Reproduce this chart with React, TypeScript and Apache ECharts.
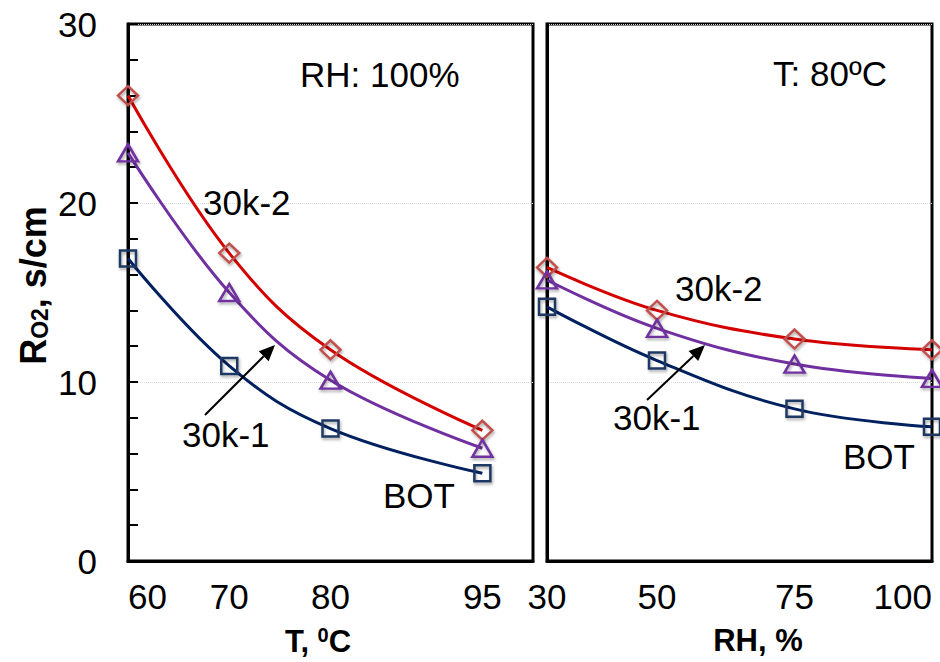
import React, { useEffect, useRef } from "react";
import * as echarts from "echarts";

const tValues = [60, 70, 80, 95];
const rhValues = [30, 50, 75, 100];
const tTickLabels = [60, 70, 80, 95];
const rhTickLabels = [30, 50, 75, 100];

// R_O2 (s/cm) vs temperature at RH 100%
const t_30k2 = [26.0, 17.2, 11.8, 7.3];
const t_30k1 = [22.8, 15.0, 10.1, 6.3];
const t_BOT = [16.9, 10.9, 7.4, 4.9];

// R_O2 (s/cm) vs RH at T 80 C
const rh_30k2 = [16.4, 14.0, 12.4, 11.8];
const rh_30k1 = [15.7, 13.0, 11.0, 10.2];
const rh_BOT = [14.2, 11.2, 8.5, 7.5];

const FONT = "'Liberation Sans', Arial, sans-serif";

const styles = {
  "30k-2": { line: "#D40000", marker: "#C0504D", symbol: "diamond", size: [20, 19] },
  "30k-1": { line: "#7030A0", marker: "#7030A0", symbol: "triangle", size: [20, 17] },
  BOT: { line: "#002060", marker: "#1F3864", symbol: "rect", size: [16, 16] },
} as const;

function makeSeries(name: keyof typeof styles, xs: number[], ys: number[], idx: number) {
  const s = styles[name];
  return {
    type: "line",
    name,
    xAxisIndex: idx,
    yAxisIndex: idx,
    data: xs.map((x, i) => [x, ys[i]]),
    smooth: 0.4,
    clip: false,
    symbol: s.symbol,
    symbolSize: s.size,
    lineStyle: { color: s.line, width: 3 },
    itemStyle: {
      color: "rgba(255,255,255,0)",
      borderColor: s.marker,
      borderWidth: 2.5,
      shadowBlur: 3,
      shadowColor: "rgba(0,0,0,0.35)",
      shadowOffsetX: 1,
      shadowOffsetY: 2,
    },
    z: 3,
  };
}

function text(str: string, x: number, y: number, align = "left") {
  return {
    type: "text",
    x,
    y,
    style: {
      text: str,
      fontSize: 35,
      fontFamily: FONT,
      fill: "#000",
      align,
      verticalAlign: "middle",
    },
    z: 10,
  };
}

function arrow(x1: number, y1: number, x2: number, y2: number) {
  const ang = Math.atan2(y2 - y1, x2 - x1);
  const L = 16;
  const W = 7;
  const bx = x2 - L * Math.cos(ang);
  const by = y2 - L * Math.sin(ang);
  const px = -Math.sin(ang) * W;
  const py = Math.cos(ang) * W;
  return [
    {
      type: "line",
      shape: { x1, y1, x2: bx, y2: by },
      style: { stroke: "#000", lineWidth: 2 },
      z: 10,
    },
    {
      type: "polygon",
      shape: { points: [[x2, y2], [bx + px, by + py], [bx - px, by - py]] },
      style: { fill: "#000" },
      z: 10,
    },
  ];
}

export default function App() {
  const ref = useRef<HTMLDivElement>(null);
  useEffect(() => {
    document.body.style.margin = "0";
    if (!ref.current) return;
    const chart = echarts.init(ref.current, null, { renderer: "svg" });
    const axisLine = { show: true, lineStyle: { color: "#000", width: 3 } };
    const splitLine = { show: true, lineStyle: { color: "#d9d9d9", width: 1, type: "dotted" } };
    const labelStyle = { fontSize: 35, fontFamily: FONT, color: "#000" };
    const nameStyle = { fontSize: 31, fontFamily: FONT, color: "#000", fontWeight: "bold" };
    chart.setOption({
      animation: false,
      backgroundColor: "#fff",
      grid: [
        { left: 128, top: 24, right: 407, bottom: 101, show: true, borderColor: "#000", borderWidth: 3 },
        { left: 547, top: 24, right: 8, bottom: 101, show: true, borderColor: "#000", borderWidth: 3 },
      ],
      xAxis: [
        {
          type: "value",
          gridIndex: 0,
          min: 60,
          max: 100,
          axisLine,
          axisTick: { show: false },
          splitLine: { show: false },
          axisLabel: { ...labelStyle, margin: 18, customValues: tTickLabels, alignMinLabel: "left" },
          name: "T, {sup|0}C",
          nameLocation: "middle",
          nameGap: 64,
          nameTextStyle: {
            ...nameStyle,
            padding: [0, 25, 0, 0],
            rich: { sup: { fontSize: 20, fontWeight: "bold", fontFamily: FONT, verticalAlign: "top", padding: [0, 0, 12, 0] } },
          },
        },
        {
          type: "value",
          gridIndex: 1,
          min: 30,
          max: 100,
          axisLine,
          axisTick: { show: false },
          splitLine: { show: false },
          axisLabel: { ...labelStyle, margin: 18, customValues: rhTickLabels, alignMaxLabel: "right" },
          name: "RH, %",
          nameLocation: "middle",
          nameGap: 64,
          nameTextStyle: { ...nameStyle, padding: [0, 0, 0, 37] },
        },
      ],
      yAxis: [
        {
          type: "value",
          gridIndex: 0,
          min: 0,
          max: 30,
          interval: 10,
          axisLine,
          axisTick: { show: true, inside: true, length: 10, lineStyle: { color: "#000", width: 2 } },
          minorTick: { show: true, splitNumber: 5, length: 10, lineStyle: { color: "#000", width: 2 } },
          splitLine,
          axisLabel: { ...labelStyle, margin: 31 },
          name: "R{sub|O2}, s/cm",
          nameLocation: "middle",
          nameGap: 77,
          nameTextStyle: {
            ...nameStyle,
            fontSize: 36,
            padding: [0, 0, 0, 14],
            rich: { sub: { fontSize: 23, fontWeight: "bold", fontFamily: FONT, verticalAlign: "bottom", padding: [13, 0, 0, 0] } },
          },
        },
        {
          type: "value",
          gridIndex: 1,
          min: 0,
          max: 30,
          interval: 10,
          axisLine,
          axisTick: { show: false },
          axisLabel: { show: false },
          splitLine,
        },
      ],
      series: [
        makeSeries("30k-2", tValues, t_30k2, 0),
        makeSeries("30k-1", tValues, t_30k1, 0),
        makeSeries("BOT", tValues, t_BOT, 0),
        makeSeries("30k-2", rhValues, rh_30k2, 1),
        makeSeries("30k-1", rhValues, rh_30k1, 1),
        makeSeries("BOT", rhValues, rh_BOT, 1),
      ],
      graphic: [
        text("RH: 100%", 300, 74),
        text("T: 80ºC", 773, 73),
        text("30k-2", 203, 202),
        text("30k-1", 182, 434),
        text("BOT", 383, 495),
        text("30k-2", 675, 288),
        text("30k-1", 613, 417),
        text("BOT", 843, 456),
        ...arrow(205, 415, 275, 345),
        ...arrow(647, 400, 705, 345),
      ],
    });
    return () => chart.dispose();
  }, []);
  return <div ref={ref} style={{ width: 940, height: 662 }} />;
}
